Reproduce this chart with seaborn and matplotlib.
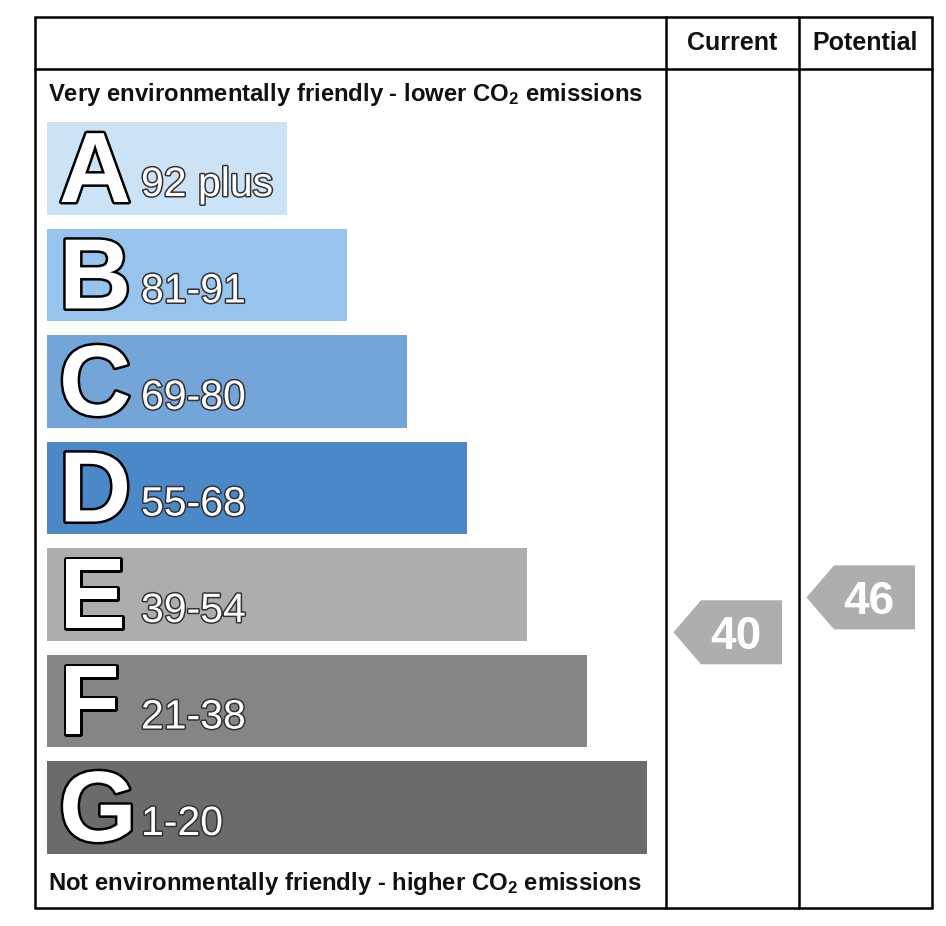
import numpy as np
import pandas as pd
import seaborn as sns
import matplotlib.pyplot as plt
import matplotlib.patheffects as pe
from matplotlib.patches import Polygon, Rectangle
from matplotlib.transforms import blended_transform_factory

# chart data
bands = ['A', 'B', 'C', 'D', 'E', 'F', 'G']
range_labels = ['92 plus', '81-91', '69-80', '55-68', '39-54', '21-38', '1-20']
range_lo = [92, 81, 69, 55, 39, 21, 1]
range_hi = [100, 91, 80, 68, 54, 38, 20]
band_colors = ['#cce2f5', '#97c4ed', '#73a5d8', '#4b88c7', '#adacae', '#858684', '#6b6a6c']
column_labels = ['Current', 'Potential']
column_values = [40, 46]
top_label = 'Very environmentally friendly - lower CO$_2$ emissions'
bottom_label = 'Not environmentally friendly - higher CO$_2$ emissions'

sns.set_theme(style='white')
plt.rcParams['font.family'] = ['Liberation Sans', 'DejaVu Sans']
plt.rcParams['mathtext.fontset'] = 'custom'
plt.rcParams['mathtext.rm'] = 'Liberation Sans:bold'
plt.rcParams['mathtext.it'] = 'Liberation Sans:bold'
plt.rcParams['mathtext.bf'] = 'Liberation Sans:bold'

W, H = 946, 926
fig = plt.figure(figsize=(W / 100, H / 100), dpi=100)

# layout in pixels
frame_l, frame_r, frame_t, frame_b = 35, 932, 17, 908
header_y = 69
col_x = [666, 799, 932]
bar_left, bar_top, bar_bottom = 47, 122, 854
bar_w = 0.873
unit_px = 60

ax_bar = fig.add_axes([bar_left / W, (H - bar_bottom) / H,
                       (col_x[0] - bar_left) / W, (bar_bottom - bar_top) / H])
df = pd.DataFrame({'band': bands, 'length': [i + 4 for i in range(len(bands))]})
sns.barplot(data=df, x='length', y='band', hue='band', palette=band_colors,
            width=bar_w, orient='h', saturation=1, linewidth=0, legend=False, ax=ax_bar)
ax_bar.set_xlim(0, (col_x[0] - bar_left) / unit_px)
ax_bar.set_ylim(len(bands) - 1 + bar_w / 2, -bar_w / 2)
ax_bar.axis('off')
ax_bar.set_zorder(1)

# overlay axes in pixel units for frame, texts and arrows
ax = fig.add_axes([0, 0, 1, 1])
ax.set_xlim(0, W)
ax.set_ylim(H, 0)
ax.axis('off')
ax.set_zorder(2)

px = (bar_bottom - bar_top) / (len(bands) - 1 + bar_w)  # pixels per band step
trans = blended_transform_factory(ax.transData, ax_bar.transData)

letter_fx = [pe.withStroke(linewidth=3.6, foreground='black')]
range_fx = [pe.withStroke(linewidth=2.2, foreground='#333333')]
for i, (b, r) in enumerate(zip(bands, range_labels)):
    base = i + bar_w / 2 - 13 / px
    ax.text(59, base, b, transform=trans, fontsize=72, fontweight='bold',
            color='white', va='baseline', ha='left', path_effects=letter_fx, zorder=5)
    ax.text(141, base - 6 / px, r, transform=trans, fontsize=29.5, color='white',
            va='baseline', ha='left', path_effects=range_fx, zorder=5)

# frame
ax.add_patch(Rectangle((frame_l, frame_t), frame_r - frame_l, frame_b - frame_t,
                       fill=False, lw=1.8, ec='black', zorder=6))
ax.plot([frame_l, frame_r], [header_y, header_y], color='black', lw=1.8, zorder=6)
for x in col_x[:2]:
    ax.plot([x, x], [frame_t, frame_b], color='black', lw=1.8, zorder=6)

for k, lab in enumerate(column_labels):
    ax.text((col_x[k] + col_x[k + 1]) / 2, 50, lab, fontsize=18, fontweight='bold',
            ha='center', va='baseline', color='#111111')

ax.text(48, 101, top_label, fontsize=17.2, fontweight='bold', va='baseline', color='#111111')
ax.text(48, 890, bottom_label, fontsize=17.2, fontweight='bold', va='baseline', color='#111111')

# rating arrows
arrow_h = 64 / px
for k, v in enumerate(column_values):
    i = next(j for j in range(len(bands)) if range_lo[j] <= v <= range_hi[j])
    frac = (v - range_lo[i] + 0.5) / (range_hi[i] - range_lo[i] + 1)
    yc = i + bar_w / 2 - frac * bar_w
    x0 = col_x[k]
    tip, body, right = x0 + 7.5, x0 + 35, col_x[k + 1] - 17
    pts = [(tip, yc), (body, yc - arrow_h / 2), (right, yc - arrow_h / 2),
           (right, yc + arrow_h / 2), (body, yc + arrow_h / 2)]
    ax.add_patch(Polygon(pts, closed=True, fc='#aeadaf', ec='none',
                         transform=trans, zorder=4))
    ax.text((body + right) / 2 - 6, yc + 16.5 / px, str(v), transform=trans,
            fontsize=33, fontweight='bold', color='white', ha='center',
            va='baseline', zorder=5)

fig.savefig('out.png', dpi=100)
